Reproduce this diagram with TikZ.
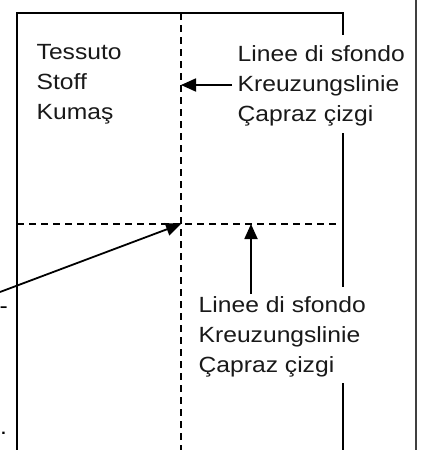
\documentclass[tikz,border=0pt]{standalone}
\usepackage{fontspec}
\setmainfont{Liberation Sans}[FakeStretch=1.12]
\usetikzlibrary{arrows.meta}
\begin{document}
\begin{tikzpicture}[x=1pt,y=-1pt,
  frame/.style={line width=2pt},
  farline/.style={line width=2pt,draw=black!75},
  guide/.style={line width=1.9pt,dash pattern=on 7pt off 5pt},
  pointer/.style={line width=1.8pt,-{Triangle[length=15pt,width=13pt]}},
  txtblock/.style={font=\fontsize{22}{30}\selectfont,text=black!90,align=left,inner sep=0pt,anchor=base west},
  frag/.style={font=\fontsize{22}{30}\selectfont,inner sep=0pt}]
\useasboundingbox (0,0) rectangle (422,450);
% frame
\draw[frame] (17,450) -- (17,13) -- (343,13) -- (343,35);
\draw[frame] (343,133) -- (343,287);
\draw[frame] (343,383) -- (343,450);
\draw[farline] (416,0) -- (416,450);
% guide lines
\coordinate (vtop) at (181,13);
\coordinate (vbot) at (181,450);
\coordinate (hleft) at (17,224);
\coordinate (hright) at (337,224);
\coordinate (X) at (181,224);
\draw[guide] (vtop) -- (vbot);
\draw[guide] (hleft) -- (hright);
% texts (base anchor = last line's baseline)
\node[txtblock] (fabric) at (36.5,119) {\fontsize{22}{28}\selectfont Tessuto\\Stoff\\Kumaş};
\node[txtblock] (lineTop) at (237.5,121.5) {Linee di sfondo\\Kreuzungslinie\\Çapraz çizgi};
\node[txtblock] (lineBot) at (198.5,372.5) {Linee di sfondo\\Kreuzungslinie\\Çapraz çizgi};
\node[frag,anchor=base east] (fragA) at (8,313) {-};
\node[frag,anchor=base west] (fragB) at (0,434) {.};
% arrows
\coordinate (t1) at (232,85);
\coordinate (h1) at (181,85);
\coordinate (t2) at (0,292);
\coordinate (t3) at (251,294);
\coordinate (h3) at (251,224);
\draw[pointer] (t1) -- (h1);
\draw[pointer] (t2) -- (X);
\draw[pointer] (t3) -- (h3);
\end{tikzpicture}
\end{document}
